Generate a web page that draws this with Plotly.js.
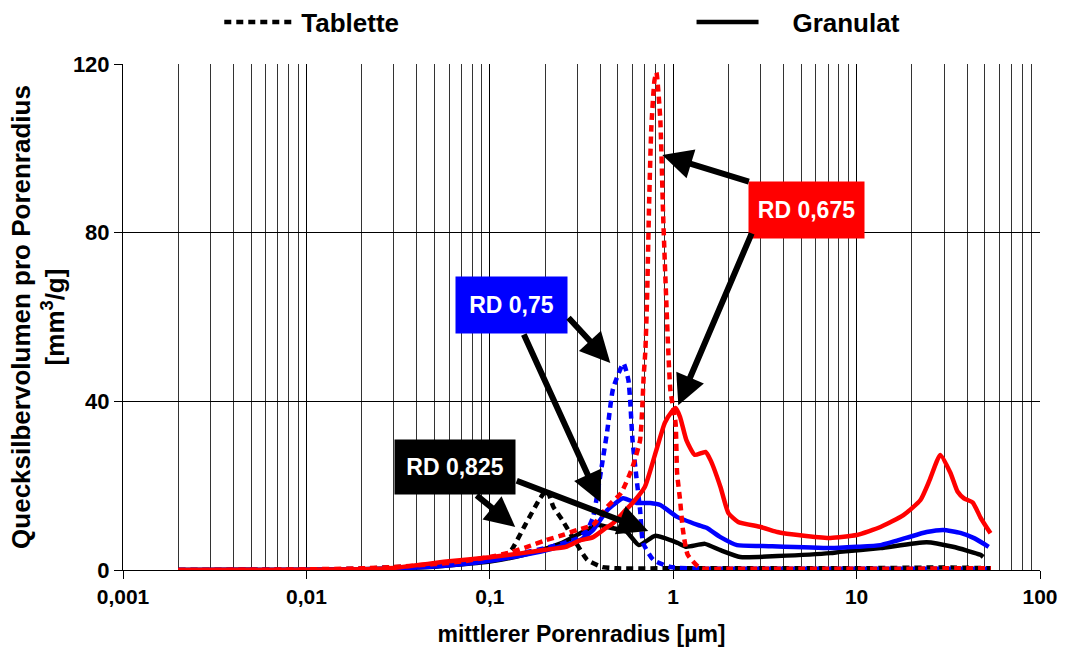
<!DOCTYPE html>
<html>
<head>
<meta charset="utf-8">
<script src="https://cdn.plot.ly/plotly-3.0.1.min.js"></script>
<style>html,body{margin:0;padding:0;background:#fff;}#chart{width:1065px;height:655px;}</style>
</head>
<body>
<div id="chart"></div>
<script>
// Tablette (dashed)
const xTab0675 = [0.002,0.005,0.01,0.02,0.03,0.05,0.07,0.1,0.13,0.16,0.2,0.25,0.3,0.366,0.437,0.52,0.6,0.66,0.68,0.69,0.705,0.72,0.74,0.76,0.79,0.81,0.85,0.88,0.9,0.965,1.03,1.05,1.09,1.13,1.2,1.4,2,3,5,10,20,30,54];
const yTab0675 = [0,0.05,0.15,0.4,0.7,1.4,2.0,3.1,4.2,5.5,7.0,8.3,9.5,10.7,15,18.3,24.4,30.8,39.6,45.8,52,64,88,105,116,118,107,85,73,42.7,34.9,23,16.6,9.5,3.6,0.5,0.3,0.3,0.3,0.3,0.3,0.4,0.4];
const xTab075 = [0.002,0.01,0.02,0.05,0.1,0.15,0.2,0.25,0.3,0.34,0.366,0.41,0.437,0.47,0.536,0.57,0.583,0.6,0.63,0.66,0.685,0.78,0.965,1.5,3,10,30,54];
const yTab075 = [0,0.1,0.3,1.1,2.5,4,5.2,6.3,7.5,9.5,12.6,25.3,33,43,49,45,40,30.8,22,14.2,6.4,2.4,0.7,0.3,0.3,0.3,0.3,0.3];
const xTab0825 = [0.002,0.01,0.02,0.05,0.1,0.12,0.131,0.156,0.188,0.205,0.222,0.248,0.29,0.34,0.41,0.5,1,3,10,30,54];
const yTab0825 = [0,0.1,0.3,1.2,2.6,3.5,4.7,10.7,17,19,15,11.9,7,2.4,0.7,0.4,0.4,0.4,0.4,0.6,0.4];
// Granulat (solid)
const xGran0675 = [0.002,0.01,0.02,0.03,0.058,0.1,0.15,0.2,0.26,0.31,0.366,0.43,0.47,0.55,0.6,0.7,0.8,0.9,0.98,1.03,1.09,1.18,1.31,1.5,1.6,1.81,2.0,2.26,3.0,3.7,4.0,7.2,10,13.5,18,22.3,25,28.6,32.5,35.5,38.5,43,47.3,53.7];
const yGran0675 = [0,0.05,0.2,0.5,2.0,3.0,4.0,4.8,5.5,7.0,7.8,10,11.1,14.2,15.9,19.7,27.7,34.9,37.5,38.4,36.3,30.8,27.3,28,26,19.7,13.5,11.4,10.2,9.0,8.7,7.6,8.3,10.2,13,16.6,21.3,27.3,23,18.6,17,16,12.5,8.7];
const xGran075 = [0.002,0.01,0.02,0.05,0.1,0.15,0.2,0.25,0.311,0.366,0.437,0.533,0.63,0.75,0.851,1.05,1.36,1.52,1.81,2.23,3.07,7.2,10,13.5,18.6,24.1,29.7,36.8,44,52.5];
const yGran075 = [0,0.05,0.2,0.8,2.2,3.5,4.6,5.8,7.1,9.5,14.2,17,15.9,15.9,15.4,12.6,10.7,10,7.8,5.9,5.7,5.2,5.5,5.9,7.6,9,9.5,8.8,7.5,5.5];
const xGran0825 = [0.002,0.01,0.02,0.05,0.1,0.15,0.2,0.25,0.311,0.385,0.437,0.514,0.56,0.65,0.8,1.06,1.18,1.49,1.81,2.32,3.7,7.2,8.1,13.5,24.1,33.5,47.3,49];
const yGran0825 = [0,0.05,0.2,0.8,2.0,3.5,5,6.5,8.7,10.7,10.2,9.5,9.0,5.9,8.1,6.4,5.5,6.2,4.7,3.1,3.3,4.0,4.3,5.2,6.6,5.5,3.6,3.1];

const xTickVals = [0.001,0.01,0.1,1,10,100];
const xTickText = ['0,001','0,01','0,1','1','10','100'];
const yTickVals = [0,40,80,120];
const labels = ['RD 0,675','RD 0,75','RD 0,825'];

const RED = '#FF0000', BLUE = '#0000FF', BLACK = '#000000';
const DASH = '7px,5px';
const W = 4.5;
const FONT = 'Liberation Sans, Arial, sans-serif';

function tr(x, y, color, dashed, name, legend, show) {
  return {
    x: x, y: y, type: 'scatter', mode: 'lines', name: name,
    line: {color: color, width: W, dash: dashed ? DASH : 'solid', shape: 'spline', smoothing: 0.5},
    showlegend: !!show, legend: legend || 'legend', hoverinfo: 'x+y'
  };
}

const data = [
  tr(xTab0825, yTab0825, BLACK, true, 'Tablette', 'legend', true),
  tr(xGran0825, yGran0825, BLACK, false, '\u00A0\u00A0\u00A0\u00A0Granulat', 'legend2', true),
  tr(xTab075, yTab075, BLUE, true, 'Tablette RD 0,75'),
  tr(xGran075, yGran075, BLUE, false, 'Granulat RD 0,75'),
  tr(xTab0675, yTab0675, RED, true, 'Tablette RD 0,675'),
  tr(xGran0675, yGran0675, RED, false, 'Granulat RD 0,675')
];

function box(text, x, y, bg, w, h) {
  return {xref:'x', yref:'y', x: Math.log10(x), y: y, text: text, showarrow: false,
    xanchor:'center', yanchor:'middle', bgcolor: bg, width: w, height: h, borderpad: 0,
    font: {color:'#FFFFFF', size: 23, family: FONT, weight: 'bold'}};
}
function arrow(xt, yt, xs, ys) {
  return {xref:'x', yref:'y', axref:'x', ayref:'y', x: Math.log10(xt), y: yt, ax: Math.log10(xs), ay: ys,
    text: '', showarrow: true, arrowhead: 2, arrowsize: 1.0, arrowwidth: 6, arrowcolor: '#000000',
    standoff: 0, startstandoff: 0};
}

const annotations = [
  box(labels[0], 5.32, 85.4, RED, 115, 56),
  box(labels[1], 0.131, 62.8, BLUE, 111, 56),
  box(labels[2], 0.0647, 24.4, BLACK, 120, 54),
  arrow(0.872, 98.4, 2.634, 92.0),
  arrow(1.066, 39.1, 2.701, 80.2),
  arrow(0.454, 49.1, 0.264, 60.2),
  arrow(0.400, 16.1, 0.152, 56.2),
  arrow(0.1376, 10.2, 0.0832, 18.0),
  arrow(0.731, 9.25, 0.1376, 21.3)
];

const layout = {
  width: 1065, height: 655,
  margin: {l: 123, r: 25, t: 64, b: 85, autoexpand: false},
  paper_bgcolor: '#FFFFFF', plot_bgcolor: '#FFFFFF',
  font: {family: FONT, color: '#000000', size: 20, weight: 'bold'},
  showlegend: true,
  xaxis: {
    type: 'log', range: [-3, 2], autorange: false,
    tickmode: 'array', tickvals: xTickVals, ticktext: xTickText,
    ticks: 'outside', ticklen: 8, tickwidth: 1, tickcolor: '#000',
    showline: true, linecolor: '#000', linewidth: 1,
    showgrid: true, gridcolor: '#000', gridwidth: 1,
    minor: {dtick: 'D1', showgrid: true, gridcolor: '#333', gridwidth: 1, ticks: ''},
    tickfont: {size: 21, weight: 'bold'},
    title: {text: 'mittlerer Porenradius [µm]', font: {size: 23, weight: 'bold'}, standoff: 18},
    zeroline: false, automargin: false
  },
  yaxis: {
    range: [0, 120], autorange: false,
    tickmode: 'array', tickvals: yTickVals,
    ticks: 'outside', ticklen: 8, tickwidth: 1, tickcolor: '#000',
    showline: true, linecolor: '#000', linewidth: 1,
    showgrid: true, gridcolor: '#000', gridwidth: 1,
    tickfont: {size: 22, weight: 'bold'},
    title: {text: 'Quecksilbervolumen pro Porenradius<br>[mm<sup>3</sup>/g]', font: {size: 26, weight: 'bold'}, standoff: 0},
    zeroline: false, automargin: false
  },
  legend: {x: 0.105, y: 1.083, xanchor: 'left', yanchor: 'middle', orientation: 'h',
    bgcolor: 'rgba(0,0,0,0)', font: {size: 26, weight: 'bold'}, itemwidth: 72},
  legend2: {x: 0.62, y: 1.083, xanchor: 'left', yanchor: 'middle', orientation: 'h',
    bgcolor: 'rgba(0,0,0,0)', font: {size: 26, weight: 'bold'}, itemwidth: 62},
  annotations: annotations
};

Plotly.newPlot('chart', data, layout, {displayModeBar: false, staticPlot: true});
</script>
</body>
</html>
